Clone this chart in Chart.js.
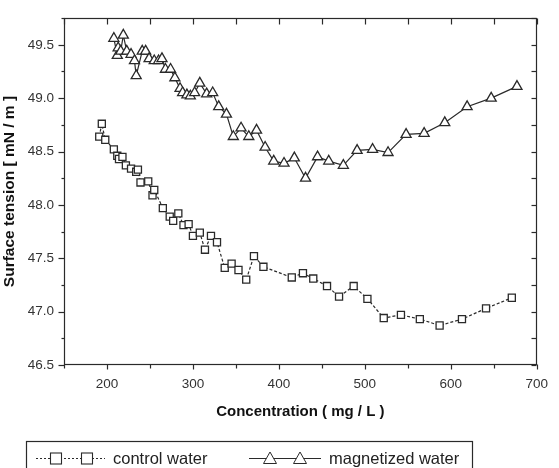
<!DOCTYPE html>
<html><head><meta charset="utf-8">
<script src="https://cdn.jsdelivr.net/npm/chart.js@4.4.1/dist/chart.umd.min.js"></script>
<style>html,body{margin:0;padding:0;background:#fff}#wrap{width:559px;height:468px}</style>
</head><body><div id="wrap"><canvas id="c" width="559" height="468"></canvas></div>
<script>
// ---- data ----
const controlX = [191, 194, 198, 208, 212, 214, 218, 222, 228, 234, 236, 239, 248, 253, 255, 265, 273, 277, 283, 289, 295, 300, 308, 314, 321, 328, 337, 345, 353, 362, 371, 382, 415, 428, 440, 456, 470, 487, 503, 522, 542, 564, 587, 613, 641, 671];
const controlY = [48.64, 48.76, 48.61, 48.52, 48.46, 48.43, 48.45, 48.37, 48.34, 48.31, 48.33, 48.21, 48.22, 48.09, 48.14, 47.97, 47.89, 47.85, 47.92, 47.81, 47.82, 47.71, 47.74, 47.58, 47.71, 47.65, 47.41, 47.45, 47.39, 47.30, 47.52, 47.42, 47.32, 47.36, 47.31, 47.24, 47.14, 47.24, 47.12, 46.94, 46.97, 46.93, 46.87, 46.93, 47.03, 47.13];
const magX = [208, 212, 213, 216, 219, 223, 228, 232, 234, 241, 245, 249, 255, 260, 264, 268, 274, 279, 285, 288, 293, 297, 302, 308, 316, 323, 330, 339, 347, 356, 365, 374, 384, 394, 406, 418, 431, 445, 458, 475, 491, 509, 527, 548, 569, 593, 619, 647, 677];
const magY = [49.56, 49.40, 49.47, 49.44, 49.59, 49.44, 49.41, 49.35, 49.21, 49.44, 49.44, 49.37, 49.35, 49.35, 49.37, 49.27, 49.27, 49.19, 49.09, 49.05, 49.03, 49.02, 49.05, 49.14, 49.04, 49.05, 48.92, 48.85, 48.64, 48.72, 48.64, 48.70, 48.54, 48.41, 48.39, 48.44, 48.25, 48.45, 48.41, 48.37, 48.51, 48.52, 48.49, 48.66, 48.67, 48.77, 48.92, 49.00, 49.11];
const xTickLabels = [200, 300, 400, 500, 600, 700];
const xMinorTicks = [150, 250, 350, 450, 550, 650];
const yTickLabels = [46.5, 47.0, 47.5, 48.0, 48.5, 49.0, 49.5];
const yMinorTicks = [46.75, 47.25, 47.75, 48.25, 48.75, 49.25, 49.75];
const seriesNames = ['control water', 'magnetized water'];
const xTitle = 'Concentration ( mg / L )';
const yTitle = 'Surface tension [ mN / m ]';

const FONT = "'Liberation Sans', Arial, sans-serif";
const INK = '#2a2a2a';

const framePlugin = {
  id: 'frame',
  afterDraw(chart) {
    const {ctx, chartArea: a, scales: {x, y}} = chart;
    ctx.save();
    ctx.strokeStyle = INK;
    ctx.lineWidth = 1.2;
    const L = Math.round(a.left) + 0.5, R = Math.round(a.right) - 0.5;
    const T = Math.round(a.top) + 0.5, B = Math.round(a.bottom) - 0.5;
    ctx.strokeRect(L, T, R - L, B - T);
    const seg = (x1, y1, x2, y2) => { ctx.beginPath(); ctx.moveTo(x1, y1); ctx.lineTo(x2, y2); ctx.stroke(); };
    xTickLabels.concat(xMinorTicks).forEach(v => {
      const px = Math.round(x.getPixelForValue(v)) + 0.5;
      const major = xTickLabels.includes(v);
      seg(px, B, px, B + (major ? 5 : 4));
      seg(px, T, px, T + 6);
    });
    yTickLabels.concat(yMinorTicks).forEach(v => {
      const py = Math.round(y.getPixelForValue(v)) + 0.5;
      const major = yTickLabels.includes(v);
      seg(L, py, L - (major ? 6 : 3), py);
      seg(R, py, R - 5, py);
    });

    // legend box
    const lx = 26.5, ly = 441.5, lw = 446, lh = 40;
    ctx.lineWidth = 1.2;
    ctx.strokeRect(lx, ly, lw, lh);
    const cy = 458.5;
    ctx.lineWidth = 1;
    ctx.setLineDash([2, 2]);
    seg(36, cy, 105, cy);
    ctx.setLineDash([]);
    [56, 87].forEach(cx => {
      ctx.fillStyle = '#fff';
      ctx.fillRect(cx - 5.5, cy - 5.5, 11, 11);
      ctx.lineWidth = 1.1;
      ctx.strokeRect(cx - 5.5, cy - 5.5, 11, 11);
    });
    ctx.lineWidth = 1;
    seg(249, cy, 321, cy);
    [270, 300].forEach(cx => {
      ctx.fillStyle = '#fff';
      ctx.beginPath();
      ctx.moveTo(cx, cy - 6.5);
      ctx.lineTo(cx + 6.5, cy + 5);
      ctx.lineTo(cx - 6.5, cy + 5);
      ctx.closePath();
      ctx.fill();
      ctx.lineWidth = 1;
      ctx.stroke();
    });
    ctx.fillStyle = '#222';
    ctx.font = '16.5px ' + FONT;
    ctx.textBaseline = 'middle';
    ctx.textAlign = 'left';
    ctx.fillText(seriesNames[0], 113, cy + 0.5);
    ctx.fillText(seriesNames[1], 329, cy + 0.5);
    ctx.restore();
  }
};

const toPts = (xs, ys) => xs.map((v, i) => ({x: v, y: ys[i]}));

new Chart(document.getElementById('c'), {
  type: 'scatter',
  data: {
    datasets: [
      {
        label: seriesNames[0],
        data: toPts(controlX, controlY),
        showLine: true,
        borderColor: INK,
        borderWidth: 1.2,
        borderDash: [3, 2],
        pointStyle: 'rect',
        pointRadius: 5,
        pointBorderWidth: 1.3,
        pointBackgroundColor: '#fff',
        pointBorderColor: INK
      },
      {
        label: seriesNames[1],
        data: toPts(magX, magY),
        showLine: true,
        borderColor: INK,
        borderWidth: 1.2,
        pointStyle: 'triangle',
        pointRadius: 5.8,
        pointBorderWidth: 1.3,
        pointBackgroundColor: '#fff',
        pointBorderColor: INK
      }
    ]
  },
  options: {
    responsive: false,
    animation: false,
    devicePixelRatio: 1,
    layout: {padding: {left: 0, right: 12, top: 10, bottom: 47}},
    plugins: {legend: {display: false}, tooltip: {enabled: false}},
    scales: {
      x: {
        type: 'linear', min: 150, max: 700,
        afterBuildTicks: s => { s.ticks = xTickLabels.map(v => ({value: v})); },
        afterFit: s => { s.height = 56; },
        ticks: {callback: v => String(v), font: {family: FONT, size: 13.5}, color: '#333', padding: 11, maxRotation: 0, autoSkip: false},
        grid: {display: false, drawTicks: false, tickLength: 0},
        border: {display: false},
        title: {display: true, text: xTitle, font: {family: FONT, size: 15, weight: 'bold'}, color: '#111', padding: 0}
      },
      y: {
        type: 'linear', min: 46.5, max: 49.75,
        afterBuildTicks: s => { s.ticks = yTickLabels.map(v => ({value: v})); },
        afterFit: s => { s.width = 64; },
        ticks: {callback: v => Number(v).toFixed(1), font: {family: FONT, size: 13.5}, color: '#333', padding: 10, autoSkip: false},
        grid: {display: false, drawTicks: false, tickLength: 0},
        border: {display: false},
        title: {display: true, text: yTitle, font: {family: FONT, size: 15.5, weight: 'bold'}, color: '#111', padding: 0}
      }
    }
  },
  plugins: [framePlugin]
});
</script>
</body></html>
